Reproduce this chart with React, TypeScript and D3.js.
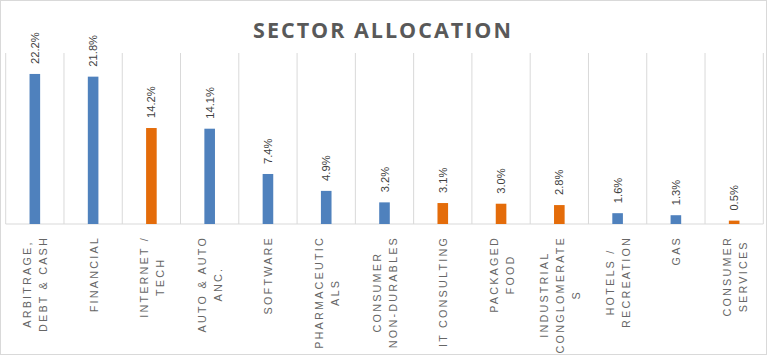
import React, { useEffect, useRef } from "react";
import * as d3 from "d3";

const categories: string[] = [
  "ARBITRAGE,\nDEBT & CASH",
  "FINANCIAL",
  "INTERNET /\nTECH",
  "AUTO & AUTO\nANC.",
  "SOFTWARE",
  "PHARMACEUTIC\nALS",
  "CONSUMER\nNON-DURABLES",
  "IT CONSULTING",
  "PACKAGED\nFOOD",
  "INDUSTRIAL\nCONGLOMERATE\nS",
  "HOTELS /\nRECREATION",
  "GAS",
  "CONSUMER\nSERVICES",
];
const values: number[] = [22.2, 21.8, 14.2, 14.1, 7.4, 4.9, 3.2, 3.1, 3.0, 2.8, 1.6, 1.3, 0.5];
const groups: string[] = ["A", "A", "B", "A", "A", "A", "A", "B", "B", "B", "A", "A", "B"];
const valueLabels: string[] = values.map((v) => v.toFixed(1) + "%");

const W = 768;
const H = 356;

export default function App() {
  const ref = useRef<SVGSVGElement | null>(null);

  useEffect(() => {
    const svg = d3.select(ref.current);
    svg.selectAll("*").remove();

    const left = 5.7, right = 763.3, top = 53, base = 224;
    const x = d3.scaleBand<string>().domain(categories).range([left, right]).padding(0);
    const y = d3.scaleLinear().domain([0, 25.3]).range([base, top]);
    const color = d3.scaleOrdinal<string, string>().domain(["A", "B"]).range(["#4f81bd", "#e46c0a"]);
    const barW = 10.6;

    // chart border
    svg.append("rect").attr("x", 0.5).attr("y", 0.5).attr("width", 766).attr("height", 354)
      .attr("fill", "#fff").attr("stroke", "#d9d9d9");

    // title
    svg.append("text").attr("x", 383).attr("y", 38).attr("text-anchor", "middle")
      .attr("font-family", "'Open Sans', sans-serif").attr("font-weight", "bold")
      .attr("font-size", 21.5).attr("letter-spacing", 2).attr("fill", "#595959")
      .text("SECTOR ALLOCATION");

    // vertical gridlines at category boundaries
    const bounds = categories.map((c) => x(c)!).concat([right]);
    svg.append("g").selectAll("line").data(bounds).join("line")
      .attr("x1", (d) => d).attr("x2", (d) => d).attr("y1", top).attr("y2", base)
      .attr("stroke", "#d9d9d9").attr("stroke-width", 1);
    svg.append("line").attr("x1", left).attr("x2", right).attr("y1", base).attr("y2", base)
      .attr("stroke", "#d9d9d9");

    // bars
    svg.append("g").selectAll("rect").data(categories).join("rect")
      .attr("x", (d) => x(d)! + x.bandwidth() / 2 - barW / 2)
      .attr("width", barW)
      .attr("y", (d, i) => y(values[i]))
      .attr("height", (d, i) => base - y(values[i]))
      .attr("fill", (d, i) => color(groups[i]));

    // value labels
    svg.append("g").selectAll("text").data(categories).join("text")
      .attr("transform", (d, i) => `translate(${x(d)! + x.bandwidth() / 2},${y(values[i]) - 10}) rotate(-90)`)
      .attr("dominant-baseline", "central")
      .attr("font-family", "'Liberation Sans', Arial, sans-serif").attr("font-size", 11.2)
      .attr("fill", "#404040")
      .text((d, i) => valueLabels[i]);

    // category labels
    const lg = svg.append("g");
    const lineGap = 16;
    const labelTop = 236;
    categories.forEach((c) => {
      const lines = c.split("\n");
      const cx = x(c)! + x.bandwidth() / 2 + 0.5;
      const nodes = lines.map((ln) =>
        lg.append("text")
          .attr("font-family", "'Liberation Sans', Arial, sans-serif").attr("font-size", 10.8)
          .attr("letter-spacing", 2.2).attr("fill", "#666666")
          .attr("text-anchor", "middle").attr("dominant-baseline", "central")
          .text(ln)
      );
      const lens = nodes.map((n) => (n.node() as SVGTextElement).getComputedTextLength());
      const maxLen = d3.max(lens) || 0;
      const cy = labelTop + maxLen / 2;
      nodes.forEach((n, j) => {
        const lx = cx + (j - (lines.length - 1) / 2) * lineGap;
        n.attr("transform", `translate(${lx},${cy}) rotate(-90)`);
      });
    });
  }, []);

  return (
    <div style={{ position: "fixed", left: 0, top: 0 }}>
      <svg ref={ref} width={W} height={H} style={{ display: "block" }} />
    </div>
  );
}
